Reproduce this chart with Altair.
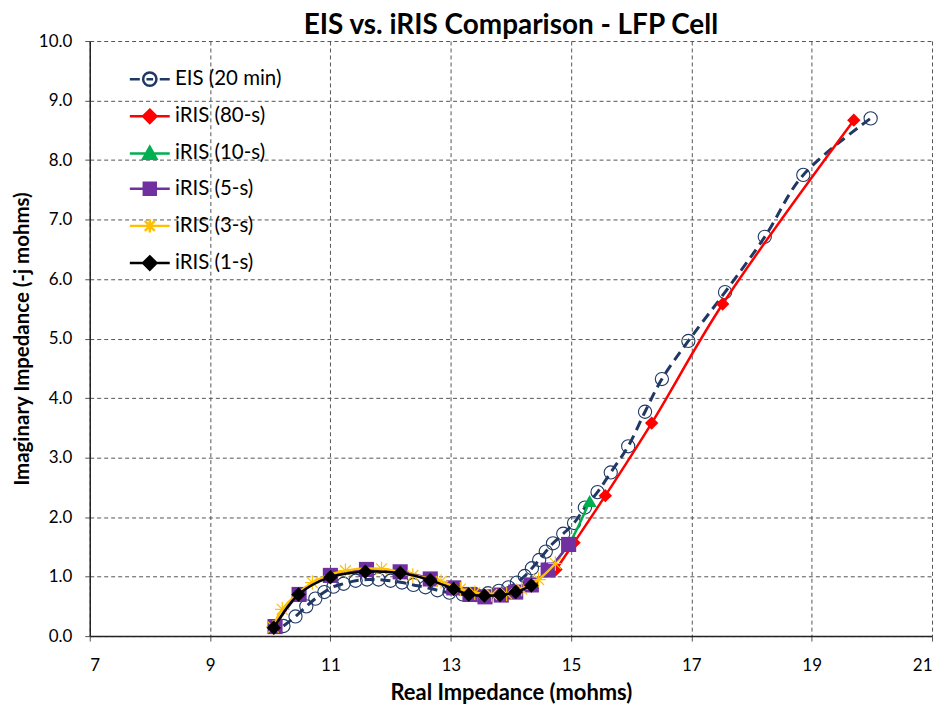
import altair as alt
import pandas as pd

# ---------------- data ----------------
series_names = ["EIS (20 min)", "iRIS (80-s)", "iRIS (10-s)", "iRIS (5-s)", "iRIS (3-s)", "iRIS (1-s)"]
line_colors = ["#1F3864", "#FF0000", "#00B050", "#7030A0", "#FFC000", "#000000"]
fill_colors = ["transparent", "#FF0000", "#00B050", "#7030A0", "#FFC000", "#000000"]

eis_x = [10.22, 10.42, 10.60, 10.75, 10.90, 11.05, 11.22, 11.42, 11.61, 11.80, 12.00, 12.19,
         12.38, 12.58, 12.78, 12.98, 13.20, 13.42, 13.62, 13.80, 13.96, 14.10, 14.23, 14.35,
         14.47, 14.58, 14.70, 14.87, 15.05, 15.23, 15.44, 15.66, 15.95, 16.23, 16.51, 16.95,
         17.56, 18.22, 18.86, 19.98]
eis_y = [0.17, 0.33, 0.50, 0.63, 0.74, 0.83, 0.88, 0.93, 0.95, 0.95, 0.93, 0.90,
         0.86, 0.82, 0.77, 0.73, 0.70, 0.69, 0.72, 0.76, 0.82, 0.90, 1.01, 1.14,
         1.28, 1.42, 1.56, 1.72, 1.90, 2.16, 2.42, 2.75, 3.19, 3.77, 4.32, 4.96,
         5.78, 6.71, 7.75, 8.70]

r80_x = [14.75, 15.05, 15.57, 16.34, 17.52, 19.70]
r80_y = [1.12, 1.57, 2.36, 3.58, 5.58, 8.67]

r10_x = [14.62, 14.96, 15.31]
r10_y = [1.11, 1.54, 2.27]

r5_x = [10.08, 10.48, 11.00, 11.60, 12.16, 12.66, 13.05, 13.32, 13.57, 13.84, 14.08, 14.34, 14.62, 14.96]
r5_y = [0.16, 0.70, 1.02, 1.12, 1.08, 0.96, 0.81, 0.70, 0.66, 0.69, 0.74, 0.86, 1.11, 1.54]

r3_x = [10.05, 10.20, 10.70, 11.25, 11.85, 12.37, 12.84, 13.16, 13.40, 13.68, 13.93, 14.18, 14.46, 14.74]
r3_y = [0.15, 0.45, 0.90, 1.10, 1.13, 1.02, 0.92, 0.79, 0.73, 0.70, 0.71, 0.79, 0.95, 1.22]

r1_x = [10.06, 10.47, 11.00, 11.58, 12.16, 12.66, 13.05, 13.30, 13.56, 13.82, 14.08, 14.34]
r1_y = [0.14, 0.70, 0.99, 1.08, 1.06, 0.94, 0.79, 0.70, 0.68, 0.69, 0.74, 0.85]

x_ticks = [7, 9, 11, 13, 15, 17, 19, 21]
y_ticks = [0, 1, 2, 3, 4, 5, 6, 7, 8, 9, 10]

FONT = "Lato"
STAR = "M-1,0H1M0,-1V1M-0.75,-0.75L0.75,0.75M-0.75,0.75L0.75,-0.75"

# legend symbols: line + marker in one path
legend_paths = [
    "M-3,0H-1.5M-0.5,0H0.5M1.5,0H3M1,0A1,1 0 1,1 -1,0A1,1 0 1,1 1,0Z",
    "M-3,0H3M0,-1L1,0L0,1L-1,0Z",
    "M-3,0H3M0,-1L1,0.8L-1,0.8Z",
    "M-3,0H3M-0.9,-0.9H0.9V0.9H-0.9Z",
    "M-3,0H3M0,-1V1M-0.75,-0.75L0.75,0.75M-0.75,0.75L0.75,-0.75",
    "M-3,0H3M0,-1L1,0L0,1L-1,0Z",
]

X = alt.X("x:Q", scale=alt.Scale(domain=[7, 21], nice=False, zero=False),
          axis=alt.Axis(values=x_ticks, title="Real Impedance (mohms)", format="d",
                        labelPadding=17, titlePadding=9))
Y = alt.Y("y:Q", scale=alt.Scale(domain=[0, 10], nice=False),
          axis=alt.Axis(values=y_ticks, title="Imaginary Impedance (-j mohms)", format=".1f",
                        labelPadding=13, titlePadding=6, titleFontSize=20.5))


def layers(xs, ys, color, shape, size, filled, lw=2.5, dash=None, pstroke=None):
    df = pd.DataFrame({"x": xs, "y": ys, "i": list(range(len(xs)))})
    base = alt.Chart(df).encode(x=X, y=Y, order="i:Q")
    lkw = dict(color=color, strokeWidth=lw, interpolate="catmull-rom")
    if dash is not None:
        lkw["strokeDash"] = dash
    line = base.mark_line(**lkw)
    pkw = dict(shape=shape, size=size, filled=filled, color=color, opacity=1)
    if pstroke is not None:
        pkw["strokeWidth"] = pstroke
    pts = base.mark_point(**pkw)
    return [line, pts]


all_layers = []
all_layers += layers(eis_x, eis_y, line_colors[0], "circle", 175, False, lw=3, dash=[10, 6], pstroke=1.1)
all_layers += layers(r80_x, r80_y, line_colors[1], "diamond", 180, True)
all_layers += layers(r10_x, r10_y, line_colors[2], "triangle-up", 200, True)
all_layers += layers(r5_x, r5_y, line_colors[3], "square", 230, True)
all_layers += layers(r3_x, r3_y, line_colors[4], STAR, 210, False, pstroke=1.2)
all_layers += layers(r1_x, r1_y, line_colors[5], "diamond", 210, True)

leg_df = pd.DataFrame({"series": series_names, "x": [7.0] * 6, "y": [0.0] * 6})
leg = alt.Legend(title=None, orient="none", legendX=50, legendY=28, labelFont=FONT,
                 labelFontSize=20.5, labelColor="#000000", symbolSize=178, symbolStrokeWidth=2.5,
                 rowPadding=13.3, labelOffset=15, padding=0, symbolOpacity=1)
legend_layer = alt.Chart(leg_df).transform_filter("false").mark_point(size=178, opacity=1).encode(
    x=X, y=Y,
    shape=alt.Shape("series:N", scale=alt.Scale(domain=series_names, range=legend_paths), legend=leg),
    fill=alt.Fill("series:N", scale=alt.Scale(domain=series_names, range=fill_colors), legend=leg),
    stroke=alt.Stroke("series:N", scale=alt.Scale(domain=series_names, range=line_colors), legend=leg),
)

chart = alt.layer(*all_layers, legend_layer).properties(
    width=845, height=597,
    title=alt.TitleParams("EIS vs. iRIS Comparison - LFP Cell", font=FONT, fontSize=28,
                          fontWeight="bold", anchor="middle", offset=-8, color="#000000"),
    autosize=alt.AutoSizeParams(type="none"),
    padding={"left": 82, "top": 32, "right": 6, "bottom": 70},
).configure_view(stroke=None).configure_axis(
    labelFont=FONT, labelFontSize=17, labelColor="#000000",
    titleFont=FONT, titleFontSize=22, titleFontWeight="bold", titleColor="#000000",
    grid=True, gridColor="#555555", gridDash=[4, 3], gridWidth=1,
    domainColor="#222222", domainWidth=1.5,
    tickColor="#555555", tickSize=5, tickWidth=1,
)

chart.save("out.html", embed_options={"renderer": "svg", "actions": False})
